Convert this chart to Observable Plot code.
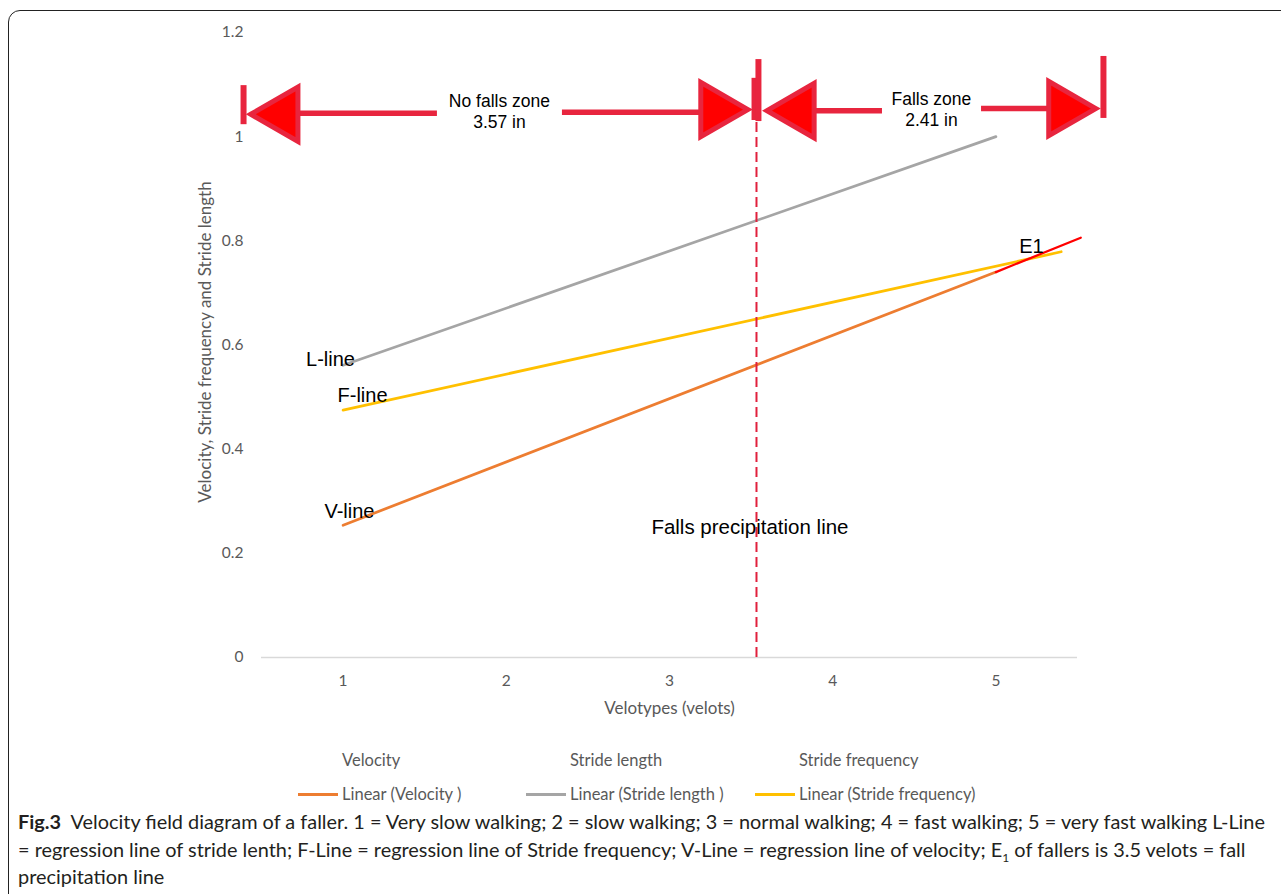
<!DOCTYPE html>
<html>
<head>
<meta charset="utf-8">
<script src="https://cdn.jsdelivr.net/npm/d3@7"></script>
<script src="https://cdn.jsdelivr.net/npm/@observablehq/plot@0.6"></script>
<style>
  html, body { margin: 0; padding: 0; background: #fff; }
  body { position: relative; width: 1281px; height: 894px; overflow: hidden; font-family: Lato, sans-serif; }
  #frame { position: absolute; left: 8px; top: 10px; width: 1320px; height: 940px; border: 1.5px solid #222; border-radius: 12px; box-sizing: border-box; }
  #chart { position: absolute; left: 0; top: 0; }
  .lg { position: absolute; font-family: Lato, sans-serif; font-size: 16.5px; color: #595959; white-space: nowrap; line-height: 1; }
  .sw { position: absolute; height: 3px; }
  #caption { position: absolute; left: 18px; top: 808px; font-family: Lato, sans-serif; font-size: 19.9px; line-height: 27.5px; color: #231f20; white-space: nowrap; }
  #caption b { font-weight: 700; }
  #caption sub { font-size: 12px; line-height: 0; }
</style>
</head>
<body>
<div id="frame"></div>
<div id="chart"></div>
<div id="legend"></div>
<div id="caption"></div>
<script>
// ---- data ----
const seriesNames = ["Velocity", "Stride length", "Stride frequency"];
const legendLabels = ["Linear (Velocity )", "Linear (Stride length )", "Linear (Stride frequency)"];
const seriesColors = ["#ed7d31", "#a5a5a5", "#ffc000"];

const xTicks = [1, 2, 3, 4, 5];
const yTicks = [0, 0.2, 0.4, 0.6, 0.8, 1, 1.2];

const velX = [1, 5],   velY = [0.254, 0.740];
const lenX = [1, 5],   lenY = [0.561, 1.0];
const freqX = [1, 5.4], freqY = [0.475, 0.779];
const extX = [5, 5.52], extY = [0.740, 0.806];

const lineLabels = ["L-line", "F-line", "V-line", "E1"];
const lineLabelX = [0.923, 1.119, 1.039, 5.218];
const lineLabelY = [0.572, 0.503, 0.280, 0.789];

const fallLineX = 3.533;
const fallLineTop = 1.027;
const fallLineText = "Falls precipitation line";
const fallTextX = 3.493, fallTextY = 0.250;

const zoneLabels = ["No falls zone\n3.57 in", "Falls zone\n2.41 in"];
const zoneLabelX = [1.958, 4.605];
const zoneLabelY = [1.049, 1.053];

// arrow shafts (with a gap for the label)
const shaftX1 = [0.70, 2.344, 3.83, 4.912];
const shaftX2 = [1.578, 3.25, 4.305, 5.40];
const shaftY  = [1.045, 1.047, 1.050, 1.054];
// arrow heads
const headLeftX = [0.627, 3.790], headLeftY = [1.043, 1.050];
const headRightX = [3.288, 5.420], headRightY = [1.052, 1.054];
// end bars
const barX = [0.39, 3.521, 3.545, 5.659];
const barY1 = [1.023, 1.031, 1.029, 1.035];
const barY2 = [1.098, 1.112, 1.148, 1.154];

// ---- helpers ----
const pts = (xs, ys) => xs.map((x, i) => ({x, y: ys[i]}));
const s3 = Math.sqrt(3);
const triRight = {draw(ctx, size) { const h = Math.sqrt(size / (s3 * 3)); ctx.moveTo(2 * h, 0); ctx.lineTo(-h, -s3 * h); ctx.lineTo(-h, s3 * h); ctx.closePath(); }};
const triLeft = {draw(ctx, size) { const h = Math.sqrt(size / (s3 * 3)); ctx.moveTo(-2 * h, 0); ctx.lineTo(h, -s3 * h); ctx.lineTo(h, s3 * h); ctx.closePath(); }};

const arrowStroke = "#e8253e";
const shafts = shaftX1.map((x1, i) => ({x1, x2: shaftX2[i], y: shaftY[i]}));
const bars = barX.map((x, i) => ({x, y1: barY1[i], y2: barY2[i]}));
const labels = lineLabels.map((t, i) => ({t, x: lineLabelX[i], y: lineLabelY[i]}));
const zones = zoneLabels.map((t, i) => ({t, x: zoneLabelX[i], y: zoneLabelY[i]}));
const fmt = d => String(d);

const chart = Plot.plot({
  width: 1281,
  height: 730,
  marginLeft: 261,
  marginRight: 204,
  marginTop: 32,
  marginBottom: 73,
  style: {fontFamily: "Lato, sans-serif", fontSize: "15px", color: "#595959", background: "transparent", overflow: "visible"},
  x: {domain: [0.5, 5.5]},
  y: {domain: [0, 1.2]},
  marks: [
    Plot.axisY(yTicks, {tickSize: 0, tickPadding: 18, label: null, fontSize: 15.5, tickFormat: fmt}),
    Plot.axisX(xTicks, {tickSize: 0, tickPadding: 17, label: null, fontSize: 15.5, tickFormat: fmt}),
    Plot.ruleY([0], {stroke: "#d9d9d9", strokeWidth: 1.5}),
    Plot.text(["Velocity, Stride frequency and Stride length"], {frameAnchor: "left", textAnchor: "middle", dx: -56, dy: -3, rotate: -90, fill: "#595959", fontSize: 17}),
    Plot.text(["Velotypes (velots)"], {frameAnchor: "bottom", dy: 56, fill: "#595959", fontSize: 17}),
    // regression lines
    Plot.line(pts(lenX, lenY), {x: "x", y: "y", stroke: seriesColors[1], strokeWidth: 2.75}),
    Plot.line(pts(freqX, freqY), {x: "x", y: "y", stroke: seriesColors[2], strokeWidth: 2.75}),
    Plot.line(pts(velX, velY), {x: "x", y: "y", stroke: seriesColors[0], strokeWidth: 2.75}),
    Plot.line(pts(extX, extY), {x: "x", y: "y", stroke: "#ff0000", strokeWidth: 2.25}),
    // falls precipitation line
    Plot.ruleX([fallLineX], {y1: 0, y2: fallLineTop, stroke: "#e0203c", strokeWidth: 2, strokeDasharray: "10,5"}),
    // arrows
    Plot.ruleY(shafts, {x1: "x1", x2: "x2", y: "y", stroke: arrowStroke, strokeWidth: 5.5}),
    Plot.ruleX(bars, {x: "x", y1: "y1", y2: "y2", stroke: arrowStroke, strokeWidth: 6}),
    Plot.dot(pts(headLeftX, headLeftY), {x: "x", y: "y", symbol: triLeft, r: 20.2, fill: "#ff0000", stroke: arrowStroke, strokeWidth: 5}),
    Plot.dot(pts(headRightX, headRightY), {x: "x", y: "y", symbol: triRight, r: 20.2, fill: "#ff0000", stroke: arrowStroke, strokeWidth: 5}),
    // texts
    Plot.text(zones, {x: "x", y: "y", text: "t", fill: "#000", fontSize: 17.5, lineHeight: 1.2, fontFamily: "Liberation Sans, Arial, sans-serif"}),
    Plot.text(labels, {x: "x", y: "y", text: "t", fill: "#000", fontSize: 20, fontFamily: "Liberation Sans, Arial, sans-serif"}),
    Plot.text([fallLineText], {x: fallTextX, y: fallTextY, fill: "#000", fontSize: 20.5, fontFamily: "Liberation Sans, Arial, sans-serif"})
  ]
});
document.getElementById("chart").appendChild(chart);

// ---- legend ----
const legend = document.getElementById("legend");
const textLeft = [342, 570, 799];
seriesNames.forEach((name, i) => {
  const h = document.createElement("div");
  h.className = "lg";
  h.style.left = textLeft[i] + "px";
  h.style.top = "752px";
  h.textContent = name;
  legend.appendChild(h);
  const sw = document.createElement("div");
  sw.className = "sw";
  sw.style.left = (textLeft[i] - 44) + "px";
  sw.style.width = "40px";
  sw.style.top = "793px";
  sw.style.background = seriesColors[i];
  legend.appendChild(sw);
  const t = document.createElement("div");
  t.className = "lg";
  t.style.left = textLeft[i] + "px";
  t.style.top = "786px";
  t.textContent = legendLabels[i];
  legend.appendChild(t);
});

// ---- caption ----
document.getElementById("caption").innerHTML =
  "<b>Fig.3</b>&nbsp; Velocity field diagram of a faller. 1 = Very slow walking; 2 = slow walking; 3 = normal walking; 4 = fast walking; 5 = very fast walking L-Line<br>" +
  "= regression line of stride lenth; F-Line = regression line of Stride frequency; V-Line = regression line of velocity; E<sub>1</sub> of fallers is 3.5 velots = fall<br>" +
  "precipitation line";
</script>
</body>
</html>
